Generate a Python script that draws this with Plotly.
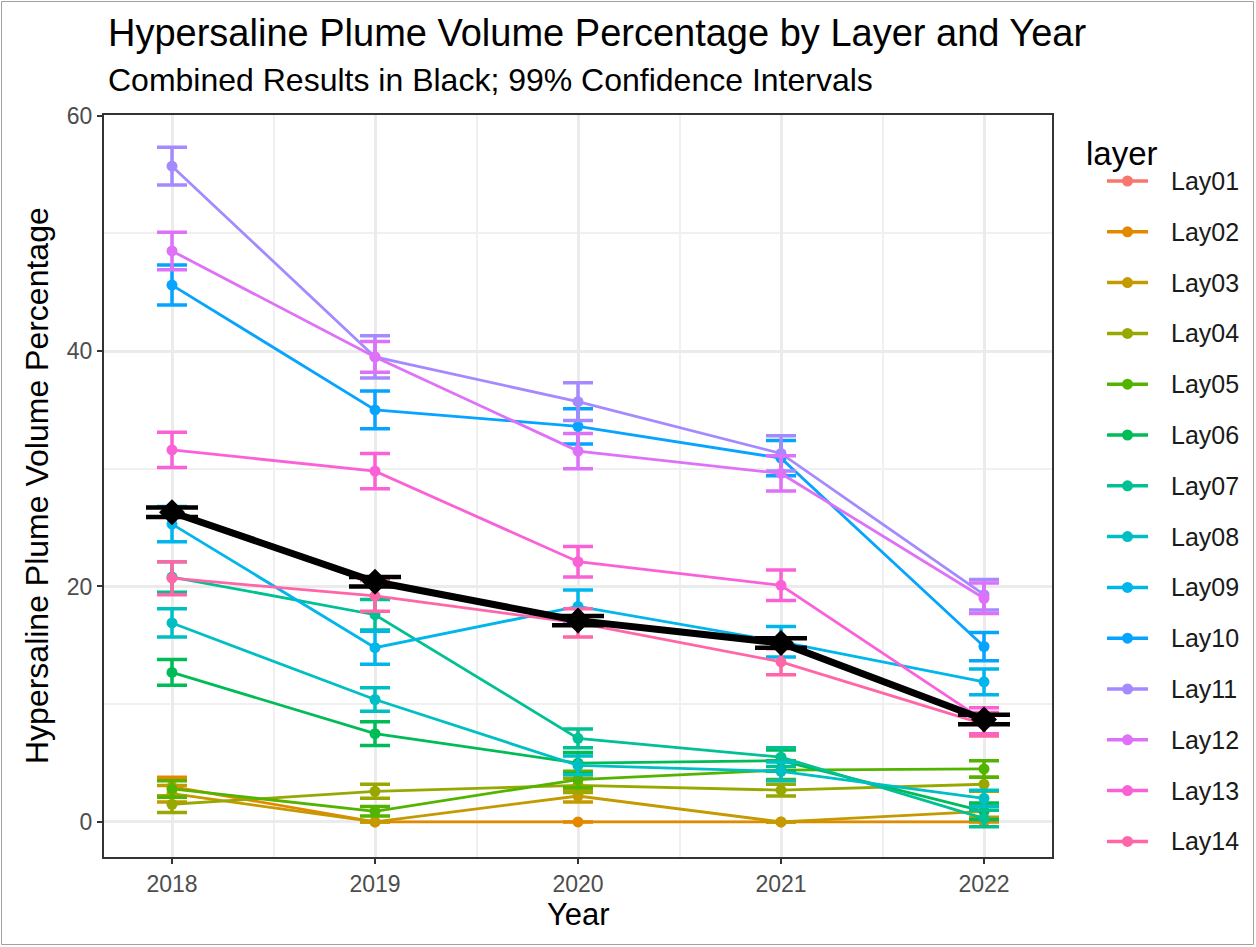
import plotly.graph_objects as go

# ---- data -------------------------------------------------------------
years = [2018, 2019, 2020, 2021, 2022]
layers = ["Lay01", "Lay02", "Lay03", "Lay04", "Lay05", "Lay06", "Lay07",
          "Lay08", "Lay09", "Lay10", "Lay11", "Lay12", "Lay13", "Lay14"]

# Lay01 has no plume in any year (no estimates, legend entry only)
lay01 = [None, None, None, None, None]
lay02 = [3.0, 0.0, 0.0, 0.0, 0.0]
lay03 = [2.4, 0.0, 2.2, 0.0, 0.9]
lay04 = [1.5, 2.6, 3.1, 2.7, 3.2]
lay05 = [2.8, 0.9, 3.6, 4.4, 4.5]
lay06 = [12.7, 7.5, 5.0, 5.2, 0.9]
lay07 = [20.8, 17.6, 7.1, 5.5, 0.3]
lay08 = [16.9, 10.4, 4.8, 4.3, 2.0]
lay09 = [25.3, 14.8, 18.3, 15.3, 11.9]
lay10 = [45.6, 35.0, 33.6, 30.9, 14.9]
lay11 = [55.7, 39.5, 35.7, 31.3, 19.3]
lay12 = [48.5, 39.5, 31.5, 29.6, 19.0]
lay13 = [31.6, 29.8, 22.1, 20.1, 8.6]
lay14 = [20.7, 19.2, 16.9, 13.6, 8.3]
combined = [26.3, 20.4, 17.1, 15.2, 8.7]

# half-widths of the 99% confidence intervals
ci01 = [None, None, None, None, None]
ci02 = [0.8, 0.0, 0.0, 0.0, 0.0]
ci03 = [0.7, 0.0, 0.5, 0.0, 0.5]
ci04 = [0.7, 0.6, 0.6, 0.5, 0.6]
ci05 = [0.7, 0.4, 0.7, 0.8, 0.7]
ci06 = [1.1, 1.0, 0.9, 0.9, 0.7]
ci07 = [1.3, 1.3, 0.8, 0.8, 0.7]
ci08 = [1.2, 1.0, 0.8, 0.8, 0.7]
ci09 = [1.5, 1.4, 1.4, 1.3, 1.1]
ci10 = [1.7, 1.6, 1.5, 1.5, 1.2]
ci11 = [1.6, 1.8, 1.6, 1.5, 1.3]
ci12 = [1.6, 1.3, 1.5, 1.5, 1.3]
ci13 = [1.5, 1.5, 1.3, 1.3, 1.1]
ci14 = [1.4, 1.3, 1.2, 1.1, 1.0]
ci_combined = [0.4, 0.4, 0.4, 0.4, 0.4]

values = [lay01, lay02, lay03, lay04, lay05, lay06, lay07,
          lay08, lay09, lay10, lay11, lay12, lay13, lay14]
cis = [ci01, ci02, ci03, ci04, ci05, ci06, ci07,
       ci08, ci09, ci10, ci11, ci12, ci13, ci14]

colors = ["#F8766D", "#E38900", "#C49A00", "#99A800", "#53B400", "#00BC56",
          "#00C094", "#00BFC4", "#00B6EB", "#06A4FF", "#A58AFF", "#DF70F8",
          "#FB61D7", "#FF66A8"]

FONT = "Liberation Sans, Arial, sans-serif"

# ---- page geometry (pixels) ------------------------------------------
W, H = 1256, 947
L, R, T, B = 104, 1052, 115, 857
PW, PH = R - L, B - T


def px(x):
    return (x - L) / PW


def py(y):
    return (B - y) / PH


fig = go.Figure()

for name, vals, err, col in zip(layers, values, cis, colors):
    fig.add_trace(go.Scatter(
        x=years, y=vals, name=name, mode="lines+markers",
        line=dict(color=col, width=2.8),
        marker=dict(color=col, size=11),
        error_y=dict(type="data", array=err, symmetric=True,
                     color=col, thickness=3.5, width=15),
        showlegend=False,
    ))

fig.add_trace(go.Scatter(
    x=years, y=combined, name="Combined", mode="lines+markers",
    line=dict(color="black", width=7),
    marker=dict(color="black", size=20, symbol="diamond"),
    error_y=dict(type="data", array=ci_combined, symmetric=True,
                 color="black", thickness=4.5, width=26),
    showlegend=False,
))

# ---- legend (drawn as keys + labels) --------------------------------
shapes = []
annotations = []
leg_top = 181
leg_step = 50.8
for i, (name, col) in enumerate(zip(layers, colors)):
    yc = leg_top + i * leg_step
    shapes.append(dict(type="line", xref="paper", yref="paper",
                       x0=px(1107), x1=px(1148), y0=py(yc), y1=py(yc),
                       line=dict(color=col, width=3.5)))
    shapes.append(dict(type="circle", xref="paper", yref="paper",
                       xsizemode="pixel", ysizemode="pixel",
                       xanchor=px(1127.5), yanchor=py(yc),
                       x0=-5.5, x1=5.5, y0=-5.5, y1=5.5,
                       fillcolor=col, line=dict(color=col, width=0)))
    annotations.append(dict(text=name, xref="paper", yref="paper",
                            x=px(1169), y=py(yc), xanchor="left",
                            yanchor="middle", showarrow=False,
                            font=dict(family=FONT, size=25, color="#1A1A1A")))

annotations.append(dict(text="layer", xref="paper", yref="paper",
                        x=px(1084), y=py(153), xanchor="left",
                        yanchor="middle", showarrow=False,
                        font=dict(family=FONT, size=33, color="black")))

# titles
annotations.append(dict(text="Hypersaline Plume Volume Percentage by Layer and Year",
                        xref="paper", yref="paper", x=px(106), y=py(33),
                        xanchor="left", yanchor="middle", showarrow=False,
                        font=dict(family=FONT, size=38, color="black")))
annotations.append(dict(text="Combined Results in Black; 99% Confidence Intervals",
                        xref="paper", yref="paper", x=px(106), y=py(80),
                        xanchor="left", yanchor="middle", showarrow=False,
                        font=dict(family=FONT, size=32, color="black")))
annotations.append(dict(text="Year", xref="paper", yref="paper",
                        x=0.5, y=py(915), xanchor="center", yanchor="middle",
                        showarrow=False,
                        font=dict(family=FONT, size=31, color="black")))
annotations.append(dict(text="Hypersaline Plume Volume Percentage",
                        xref="paper", yref="paper", x=px(37), y=0.5,
                        xanchor="center", yanchor="middle", textangle=-90,
                        showarrow=False,
                        font=dict(family=FONT, size=32, color="black")))

# thin frame around the whole image
shapes.append(dict(type="rect", xref="paper", yref="paper",
                   x0=px(1.5), x1=px(W - 2.5), y0=py(H - 2.5), y1=py(1.5),
                   line=dict(color="#A0A0A0", width=1), layer="below"))

fig.update_layout(
    width=W, height=H,
    margin=dict(l=L, r=W - R, t=T, b=H - B, pad=0),
    paper_bgcolor="white", plot_bgcolor="white",
    shapes=shapes, annotations=annotations,
    showlegend=False,
)

fig.update_xaxes(
    range=[2017.665, 2022.335],
    tickmode="array", tickvals=years, ticktext=[str(y) for y in years],
    ticks="outside", ticklen=5, tickwidth=1.5, tickcolor="#333333",
    tickfont=dict(family=FONT, size=23, color="#4D4D4D"),
    showgrid=True, gridcolor="#EBEBEB", gridwidth=2.5,
    minor=dict(tickmode="linear", tick0=2018.5, dtick=1, showgrid=True,
               gridcolor="#F0F0F0", gridwidth=1.5, ticks=""),
    showline=True, mirror=True, linecolor="#333333", linewidth=2,
    zeroline=False,
)
fig.update_yaxes(
    range=[-2.98, 60.05],
    tickmode="array", tickvals=[0, 20, 40, 60],
    ticks="outside", ticklen=5, tickwidth=1.5, tickcolor="#333333",
    tickfont=dict(family=FONT, size=23, color="#4D4D4D"),
    showgrid=True, gridcolor="#EBEBEB", gridwidth=2.5,
    minor=dict(tickmode="linear", tick0=10, dtick=20, showgrid=True,
               gridcolor="#F0F0F0", gridwidth=1.5, ticks=""),
    showline=True, mirror=True, linecolor="#333333", linewidth=2,
    zeroline=False,
)

fig.write_html("out.html")
